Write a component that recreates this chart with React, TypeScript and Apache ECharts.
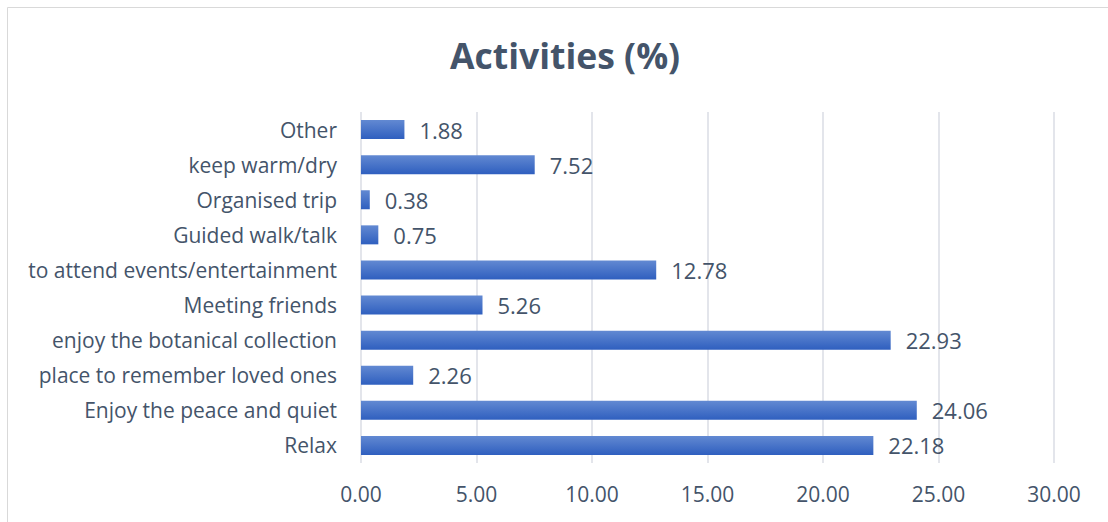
import React, { useEffect, useRef } from "react";
import * as echarts from "echarts";

const categories = [
  "Relax",
  "Enjoy the peace and quiet",
  "place to remember loved ones",
  "enjoy the botanical collection",
  "Meeting friends",
  "to attend events/entertainment",
  "Guided walk/talk",
  "Organised trip",
  "keep warm/dry",
  "Other",
];
const values = [22.18, 24.06, 2.26, 22.93, 5.26, 12.78, 0.75, 0.38, 7.52, 1.88];
const titleText = "Activities (%)";

const FONT = "Open Sans";
const TEXT = "#44546a";

export default function App() {
  const ref = useRef<HTMLDivElement>(null);
  useEffect(() => {
    const chart = echarts.init(ref.current!, null, { renderer: "svg" });
    chart.setOption({
      animation: false,
      backgroundColor: "#ffffff",
      title: {
        text: titleText,
        left: 445,
        top: 32,
        textStyle: { fontFamily: FONT, fontSize: 35.5, fontWeight: "bold", color: TEXT },
      },
      graphic: [
        {
          type: "rect",
          shape: { x: 7.5, y: 7.5, width: 1200, height: 600 },
          style: { fill: "none", stroke: "#d9d9d9", lineWidth: 1 },
          silent: true,
        },
      ],
      grid: { left: 361, right: 54, top: 112, bottom: 59, containLabel: false },
      xAxis: {
        type: "value",
        min: 0,
        max: 30,
        interval: 5,
        axisLine: { show: false },
        axisTick: { show: false },
        splitLine: { lineStyle: { color: "#dadde5", width: 1.5 } },
        axisLabel: {
          margin: 20,
          fontFamily: FONT,
          fontSize: 21,
          color: TEXT,
          formatter: (v: number) => v.toFixed(2),
        },
      },
      yAxis: {
        type: "category",
        data: categories,
        axisLine: { show: false },
        axisTick: { show: false },
        axisLabel: { margin: 24, fontFamily: FONT, fontSize: 21, color: TEXT },
      },
      series: [
        {
          type: "bar",
          data: values,
          barWidth: 19,
          itemStyle: {
            color: new echarts.graphic.LinearGradient(0, 0, 0, 1, [
              { offset: 0, color: "#6289d2" },
              { offset: 1, color: "#2f5fbf" },
            ]),
          },
          label: {
            show: true,
            position: "right",
            distance: 15,
            fontFamily: FONT,
            fontSize: 22,
            color: TEXT,
            formatter: (p: any) => Number(p.value).toFixed(2),
          },
        },
      ],
    });
    return () => chart.dispose();
  }, []);
  return (
    <div
      ref={ref}
      style={{ position: "fixed", left: 0, top: 0, width: 1108, height: 522 }}
    />
  );
}
